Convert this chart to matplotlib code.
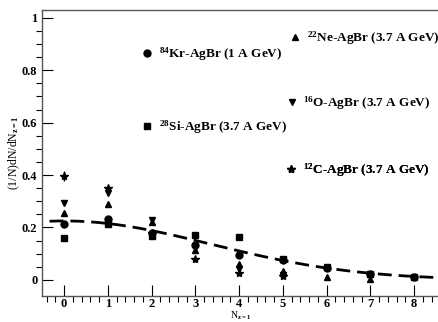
import numpy as np
import matplotlib as m
m.use('Agg')
import matplotlib.pyplot as plt

plt.rcParams['font.family'] = 'Liberation Serif'
plt.rcParams['font.weight'] = 'bold'
plt.rcParams['mathtext.fontset'] = 'custom'
plt.rcParams['mathtext.rm'] = 'Liberation Serif:bold'
plt.rcParams['mathtext.it'] = 'Liberation Serif:bold'
plt.rcParams['mathtext.bf'] = 'Liberation Serif:bold'

# multiplicity N_z=1
nz = [0, 1, 2, 3, 4, 5, 6, 7, 8]

kr = [0.214, 0.232, 0.180, 0.133, 0.094, 0.074, 0.046, 0.021, 0.012]
si = [0.160, 0.215, 0.168, 0.172, 0.163, 0.081, 0.050, 0.022, 0.011]
ne = [0.255, 0.288, 0.220, 0.115, 0.060, 0.035, 0.010, 0.003]
o16 = [0.295, 0.333, 0.229, 0.122, 0.042, 0.020, None, 0.018]
c12 = [0.396, 0.350, 0.178, 0.078, 0.026, 0.014]

c12_err = [0.02, 0.01, 0.01, 0.008, 0.008, 0.006]

# gaussian fit parameters
fit_amp = 0.225
fit_sigma = 3.35

labels = {
    'kr': r'$^{84}$Kr-AgBr (1 A GeV)',
    'ne': r'$^{22}$Ne-AgBr (3.7 A GeV)',
    'o': r'$^{16}$O-AgBr (3.7 A GeV)',
    'si': r'$^{28}$Si-AgBr (3.7 A GeV)',
    'c': r'$^{12}$C-AgBr (3.7 A GeV)',
}


def pts(vals):
    xs = [x for x, v in zip(nz, vals) if v is not None]
    ys = [v for v in vals if v is not None]
    return xs, ys


def main():
    fig = plt.figure(figsize=(4.39, 3.22), dpi=100)
    ax = fig.add_axes([0.096, 0.082, 0.904, 0.887])

    xf = np.linspace(-0.33, 8.6, 200)
    ax.plot(xf, fit_amp * np.exp(-xf**2 / (2 * fit_sigma**2)), color='black',
            lw=2, dashes=(5, 2.5), zorder=1)

    hk, = ax.plot(*pts(kr), 'o', color='black', ms=5, ls='none', zorder=3)
    hs, = ax.plot(*pts(si), 's', color='black', ms=4.5, ls='none', zorder=3)
    hn, = ax.plot(*pts(ne), '^', color='black', ms=5, ls='none', zorder=3)
    ho, = ax.plot(*pts(o16), 'v', color='black', ms=5, ls='none', zorder=3)
    xc, yc = pts(c12)
    ax.errorbar(xc, yc, yerr=c12_err, fmt='none', ecolor='black', lw=1)
    hc, = ax.plot(xc, yc, '*', color='black', ms=6, ls='none', zorder=3)

    legs = [(hk, labels['kr'], (0.248, 0.845)),
            (hn, labels['ne'], (0.62, 0.902)),
            (ho, labels['o'], (0.612, 0.675)),
            (hs, labels['si'], (0.248, 0.59)),
            (hc, labels['c'], (0.61, 0.44))]
    for h, lab, anchor in legs:
        lg = ax.legend([h], [lab], loc='center left', bbox_to_anchor=anchor,
                       frameon=False, fontsize=9.5, handlelength=1.0,
                       handletextpad=0.4, borderpad=0, borderaxespad=0)
        ax.add_artist(lg)

    ax.set_xlim(-0.5, 8.57)
    ax.set_ylim(-0.06, 1.03)
    ax.set_xticks(range(0, 9))
    ax.set_xticks(np.arange(-0.4, 8.6, 0.2), minor=True)
    ax.set_yticks([0, 0.2, 0.4, 0.6, 0.8, 1])
    ax.set_yticklabels(['0', '0.2', '0.4', '0.6', '0.8', '1'])
    ax.set_yticks(np.arange(0, 1.01, 0.05), minor=True)
    ax.tick_params(direction='in', labelsize=9, top=False, right=False)
    ax.tick_params(axis='x', pad=2)
    ax.tick_params(which='major', length=8, width=0.8)
    ax.tick_params(which='minor', length=4, width=0.8)
    ax.spines['right'].set_visible(False)
    for s in ['left', 'bottom', 'top']:
        ax.spines[s].set_linewidth(1)
        ax.spines[s].set_color('#555555')

    ax.set_xlabel(r'N$_{z=1}$', fontsize=7)
    ax.xaxis.set_label_coords(0.5, -0.05)
    ax.set_ylabel(r'(1/N)dN/dN$_{z=1}$', fontsize=8.5)
    ax.yaxis.set_label_coords(-0.05, 0.5)

    plt.savefig('out.png', dpi=100)


if __name__ == '__main__':
    main()
